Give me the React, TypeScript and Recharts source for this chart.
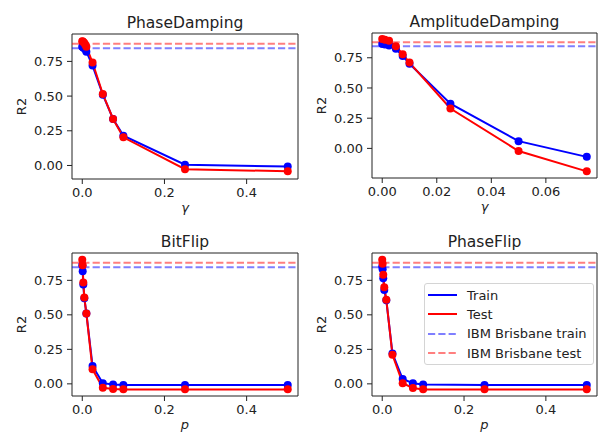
import { LineChart, Line, XAxis, YAxis, ReferenceLine, ReferenceArea, Legend, Label } from 'recharts';

const FONT = '"DejaVu Sans", Verdana, sans-serif';

// PhaseDamping
const pdGamma = [0, 0.001, 0.0025, 0.005, 0.0075, 0.01, 0.025, 0.05, 0.075, 0.1, 0.25, 0.5];
const pdTrain = [0.855, 0.853, 0.85, 0.845, 0.835, 0.82, 0.72, 0.51, 0.335, 0.215, 0.005, -0.008];
const pdTest = [0.895, 0.894, 0.89, 0.882, 0.87, 0.855, 0.742, 0.515, 0.335, 0.203, -0.027, -0.042];

// AmplitudeDamping
const adGamma = [0, 0.001, 0.0025, 0.005, 0.0075, 0.01, 0.025, 0.05, 0.075];
const adTrain = [0.865, 0.86, 0.852, 0.825, 0.765, 0.7, 0.37, 0.06, -0.07];
const adTest = [0.905, 0.9, 0.89, 0.845, 0.78, 0.71, 0.33, -0.022, -0.19];

// BitFlip
const bfP = [0, 0.001, 0.0025, 0.005, 0.01, 0.025, 0.05, 0.075, 0.1, 0.25, 0.5];
const bfTrain = [0.86, 0.815, 0.72, 0.62, 0.51, 0.13, 0.005, -0.005, -0.008, -0.008, -0.008];
const bfTest = [0.9, 0.86, 0.735, 0.625, 0.51, 0.105, -0.028, -0.038, -0.04, -0.04, -0.04];

// PhaseFlip
const pfP = [0, 0.001, 0.0025, 0.005, 0.01, 0.025, 0.05, 0.075, 0.1, 0.25, 0.5];
const pfTrain = [0.85, 0.83, 0.765, 0.68, 0.605, 0.22, 0.035, 0.005, -0.005, -0.008, -0.008];
const pfTest = [0.9, 0.87, 0.79, 0.7, 0.61, 0.21, 0.005, -0.03, -0.04, -0.04, -0.04];

// IBM Brisbane reference scores
const ibmTrain = 0.845;
const ibmTest = 0.878;

const yTicks = [0, 0.25, 0.5, 0.75];
const xTicksWide = [0, 0.2, 0.4];
const xTicksAmp = [0, 0.02, 0.04, 0.06];

const legendItems = [
  { label: 'Train', color: 'blue', dashed: false },
  { label: 'Test', color: 'red', dashed: false },
  { label: 'IBM Brisbane train', color: 'blue', dashed: true },
  { label: 'IBM Brisbane test', color: 'red', dashed: true },
];

const INK = '#222';
const DASH = '7.2 3.1';

type Box = { top: number; bottom: number; left: number; right: number };

interface PanelProps {
  title: string;
  xs: number[];
  train: number[];
  test: number[];
  xDomain: [number, number];
  yDomain: [number, number];
  xTicks: number[];
  xDigits: number;
  xLabel: string;
  left: number;
  top: number;
  width: number;
  height: number;
  plot: Box;
  legend?: boolean;
}

function LegendBox() {
  return (
    <div
      style={{
        width: 170,
        height: 82,
        boxSizing: 'border-box',
        border: '1px solid #d4d4d4',
        borderRadius: 3,
        background: 'rgba(255,255,255,0.8)',
        position: 'relative',
        fontFamily: FONT,
        fontSize: 13,
        color: INK,
      }}
    >
      {legendItems.map((it, i) => (
        <div
          key={it.label}
          style={{
            position: 'absolute',
            left: 3,
            top: 1.5 + 19.3 * i,
            height: 19.3,
            display: 'flex',
            alignItems: 'center',
            whiteSpace: 'nowrap',
          }}
        >
          <svg width={29} height={6} style={{ marginRight: 10 }}>
            <line
              x1={0}
              x2={29}
              y1={3}
              y2={3}
              stroke={it.color}
              strokeWidth={2}
              strokeOpacity={it.dashed ? 0.5 : 1}
              strokeDasharray={it.dashed ? DASH : undefined}
            />
          </svg>
          <span>{it.label}</span>
        </div>
      ))}
    </div>
  );
}

function Panel({ title, xs, train, test, xDomain, yDomain, xTicks, xDigits, xLabel, left, top, width, height, plot, legend }: PanelProps) {
  const rows = xs.map((x, i) => ({ x, train: train[i], test: test[i] }));
  const cx = (plot.left + plot.right) / 2;
  const cy = (plot.top + plot.bottom) / 2;
  const tickStyle = { fontSize: 13, fill: INK, fontFamily: FONT };

  return (
    <div style={{ position: 'absolute', left, top }}>
      <LineChart
        width={width}
        height={height}
        data={rows}
        margin={{ top: plot.top, right: width - plot.right, bottom: 0, left: 0 }}
      >
        <XAxis
          type="number"
          dataKey="x"
          domain={xDomain}
          ticks={xTicks}
          allowDataOverflow
          tickFormatter={(v: number) => v.toFixed(xDigits)}
          height={height - plot.bottom}
          tickSize={5}
          tickMargin={4}
          axisLine={false}
          tickLine={{ stroke: INK }}
          tick={tickStyle}
        >
          <Label
            content={() => (
              <text x={cx} y={plot.bottom + 33} textAnchor="middle" fontStyle="italic" fontSize={13} fill={INK} fontFamily={FONT}>
                {xLabel}
              </text>
            )}
          />
        </XAxis>
        <YAxis
          type="number"
          domain={yDomain}
          ticks={yTicks}
          allowDataOverflow
          tickFormatter={(v: number) => v.toFixed(2)}
          width={plot.left}
          tickSize={5}
          tickMargin={4}
          axisLine={false}
          tickLine={{ stroke: INK }}
          tick={tickStyle}
        >
          <Label
            content={() => (
              <text
                x={plot.left - 46}
                y={cy}
                transform={`rotate(-90 ${plot.left - 46} ${cy})`}
                textAnchor="middle"
                fontSize={13}
                fill={INK}
                fontFamily={FONT}
              >
                R2
              </text>
            )}
          />
        </YAxis>
        <ReferenceLine y={ibmTrain} stroke="blue" strokeOpacity={0.5} strokeWidth={2} strokeDasharray={DASH} />
        <ReferenceLine y={ibmTest} stroke="red" strokeOpacity={0.5} strokeWidth={2} strokeDasharray={DASH} />
        <Line
          type="linear"
          dataKey="train"
          stroke="blue"
          strokeWidth={2}
          dot={{ r: 4, fill: 'blue', stroke: 'blue', strokeWidth: 0, fillOpacity: 1 }}
          activeDot={false}
          isAnimationActive={false}
        />
        <Line
          type="linear"
          dataKey="test"
          stroke="red"
          strokeWidth={2}
          dot={{ r: 4, fill: 'red', stroke: 'red', strokeWidth: 0, fillOpacity: 1 }}
          activeDot={false}
          isAnimationActive={false}
        />
        <ReferenceArea
          x1={xDomain[0]}
          x2={xDomain[1]}
          y1={yDomain[0]}
          y2={yDomain[1]}
          fill="none"
          fillOpacity={0}
          stroke={INK}
          strokeWidth={1}
          ifOverflow="visible"
        >
          <Label
            content={() => (
              <text x={cx} y={plot.top - 6.5} textAnchor="middle" fontSize={15.5} fill={INK} fontFamily={FONT}>
                {title}
              </text>
            )}
          />
        </ReferenceArea>
        {legend && (
          <Legend
            layout="horizontal"
            verticalAlign="middle"
            align="center"
            content={() => <LegendBox />}
            wrapperStyle={{ left: 124, top: 63, width: 170, height: 82 }}
          />
        )}
      </LineChart>
    </div>
  );
}

export default function App() {
  return (
    <div style={{ position: 'absolute', left: 0, top: 0, width: 598, height: 433, background: '#fff', overflow: 'hidden', fontFamily: FONT }}>
      <Panel
        title="PhaseDamping"
        xs={pdGamma}
        train={pdTrain}
        test={pdTest}
        xDomain={[-0.025, 0.525]}
        yDomain={[-0.0975, 0.9475]}
        xTicks={xTicksWide}
        xDigits={1}
        xLabel="γ"
        left={0}
        top={0}
        width={300}
        height={220}
        plot={{ top: 34, bottom: 179, left: 72, right: 298 }}
      />
      <Panel
        title="AmplitudeDamping"
        xs={adGamma}
        train={adTrain}
        test={adTest}
        xDomain={[-0.00375, 0.07875]}
        yDomain={[-0.245, 0.955]}
        xTicks={xTicksAmp}
        xDigits={2}
        xLabel="γ"
        left={300}
        top={0}
        width={298}
        height={220}
        plot={{ top: 33, bottom: 178, left: 72, right: 297 }}
      />
      <Panel
        title="BitFlip"
        xs={bfP}
        train={bfTrain}
        test={bfTest}
        xDomain={[-0.025, 0.525]}
        yDomain={[-0.088, 0.948]}
        xTicks={xTicksWide}
        xDigits={1}
        xLabel="p"
        left={0}
        top={220}
        width={300}
        height={213}
        plot={{ top: 33, bottom: 176, left: 72, right: 298 }}
      />
      <Panel
        title="PhaseFlip"
        xs={pfP}
        train={pfTrain}
        test={pfTest}
        xDomain={[-0.025, 0.525]}
        yDomain={[-0.088, 0.948]}
        xTicks={xTicksWide}
        xDigits={1}
        xLabel="p"
        left={300}
        top={220}
        width={298}
        height={213}
        plot={{ top: 33, bottom: 176, left: 72, right: 297 }}
        legend
      />
    </div>
  );
}
